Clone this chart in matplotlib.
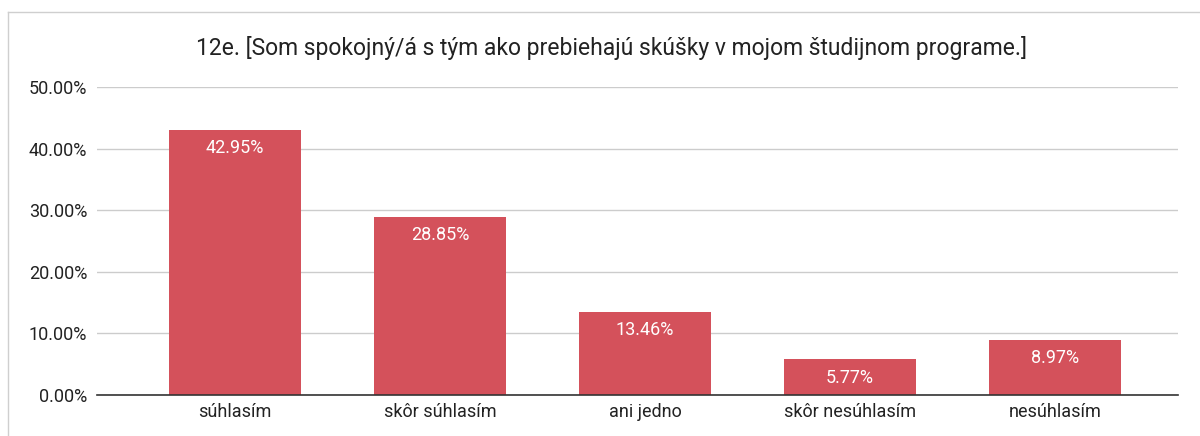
import matplotlib.pyplot as plt
from matplotlib.lines import Line2D
from matplotlib.ticker import FuncFormatter

categories = ["súhlasím", "skôr súhlasím", "ani jedno", "skôr nesúhlasím", "nesúhlasím"]
values = [42.95, 28.85, 13.46, 5.77, 8.97]
labels = ["42.95%", "28.85%", "13.46%", "5.77%", "8.97%"]
yticks = [0, 10, 20, 30, 40, 50]

plt.rcParams['font.family'] = ['Roboto', 'DejaVu Sans']

fig = plt.figure(figsize=(12, 4.36), dpi=100)
ax = fig.add_axes([0.0808, 0.094, 0.901, 0.7065])

x = list(range(len(categories)))
bars = ax.bar(x, values, width=0.644, color="#d4515b", zorder=3)

for b, lab in zip(bars, labels):
    ax.annotate(lab, (b.get_x() + b.get_width() / 2, b.get_height()),
                xytext=(0, -13), textcoords="offset points",
                ha="center", va="center", color="white", fontsize=13)

ax.set_xlim(-0.673, 4.6)
ax.set_ylim(0, 50)
ax.set_yticks(yticks)
ax.yaxis.set_major_formatter(FuncFormatter(lambda v, p: "%.2f%%" % v))
ax.set_xticks(x)
ax.set_xticklabels(categories)
ax.tick_params(axis="both", length=0, labelsize=13, colors="#222222")
ax.tick_params(axis="y", pad=7)
ax.tick_params(axis="x", pad=6)
ax.grid(axis="y", color="#cccccc", linewidth=1, zorder=0)
for s in ["top", "right", "left"]:
    ax.spines[s].set_visible(False)
ax.spines["bottom"].set_color("#333333")
ax.spines["bottom"].set_linewidth(1.2)
ax.spines["bottom"].set_zorder(4)

fig.text(0.5094, 0.889, "12e. [Som spokojný/á s tým ako prebiehajú skúšky v mojom študijnom programe.]",
         ha="center", va="center", fontsize=16.5, color="#222222")

# frame of the sheet cell
fig.add_artist(Line2D([8 / 1200, 8 / 1200], [0, 1 - 12 / 436], color="#cfcfcf", lw=1))
fig.add_artist(Line2D([8 / 1200, 1], [1 - 12 / 436, 1 - 12 / 436], color="#cfcfcf", lw=1))

fig.savefig("out.png", dpi=100)
